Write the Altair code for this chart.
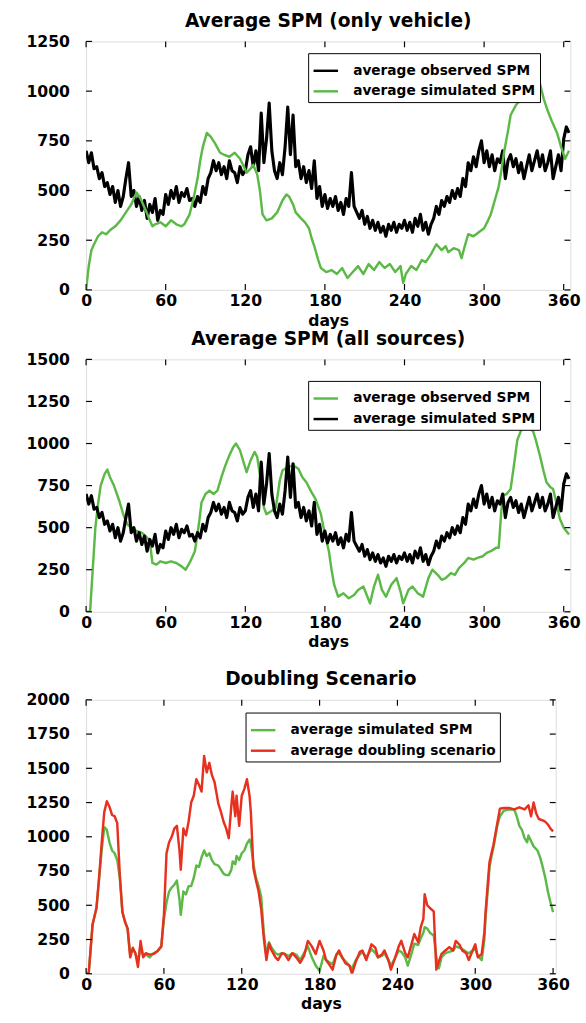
import altair as alt
import pandas as pd

FONT = "DejaVu Sans"
GREEN = "#5cb947"
RED = "#e8301f"
BLACK = "#000000"

# ---- observed SPM (same record in both upper panels), every second day ----
obs_days = list(range(0, 365, 2))
obs_spm = [
    700, 640, 690, 610, 620, 560, 590, 520, 540, 480,
    520, 440, 500, 420, 470, 560, 640, 470, 500, 420,
    470, 400, 450, 360, 430, 390, 460, 350, 400, 380,
    480, 430, 500, 460, 520, 440, 490, 470, 510, 450,
    460, 420, 470, 440, 520, 480, 560, 590, 650, 600,
    640, 580, 620, 560, 650, 600, 590, 540, 620, 580,
    600, 680, 720, 620, 700, 600, 890, 640, 760, 940,
    700, 600, 560, 640, 580, 720, 920, 680, 880, 620,
    650, 560, 620, 540, 600, 510, 650, 460, 520, 420,
    480, 410, 460, 420, 470, 400, 440, 380, 460, 420,
    590, 420, 390, 360, 400, 330, 370, 310, 350, 300,
    340, 290, 320, 270, 330, 300, 340, 290, 330, 310,
    350, 300, 340, 290, 360, 320, 380, 300, 340, 280,
    330, 360, 420, 380, 450, 420, 470, 440, 500, 460,
    510, 470, 560, 520, 640, 600, 670, 620, 700, 750,
    640, 700, 620, 680, 600, 660, 640, 700, 560, 650,
    680, 620, 660, 590, 640, 560, 620, 680, 600, 650,
    700, 620, 680, 600, 640, 700, 560, 620, 680, 600,
    760, 820, 790,
]

# ---- simulated SPM, vehicle sources only ----
veh_days = [0, 2, 4, 6, 9, 12, 15, 18, 22, 26, 30, 34, 38, 41, 45, 48, 50, 52, 56, 60,
            64, 68, 72, 74, 78, 81, 84, 86, 88, 91, 94, 97, 101, 104, 108, 112, 116, 119, 121, 124,
            126, 129, 131, 133, 136, 140, 144, 148, 151, 153, 156, 158, 162, 165, 168, 170, 172, 175, 177, 181,
            185, 189, 193, 197, 201, 205, 209, 213, 217, 221, 225, 229, 233, 237, 239, 241, 245, 249, 253, 256,
            260, 264, 268, 271, 273, 277, 281, 283, 285, 288, 292, 296, 300, 303, 305, 308, 311, 313, 315, 318,
            320, 324, 328, 332, 336, 340, 342, 345, 348, 351, 355, 358, 361, 364]
veh_spm = [0, 120, 200, 230, 270, 290, 280, 300, 320, 350, 390, 430, 490, 460, 400, 350, 320, 330, 340, 320,
           350, 330, 320, 330, 380, 460, 560, 650, 720, 790, 770, 740, 690, 680, 670, 690, 660, 620, 590, 610,
           630, 580, 500, 380, 350, 360, 390, 450, 480, 470, 430, 390, 360, 340, 310, 260, 220, 150, 110, 90,
           100, 80, 110, 60, 90, 120, 80, 130, 100, 140, 110, 130, 90, 120, 35, 80, 120, 100, 150, 140,
           180, 230, 200, 220, 190, 210, 200, 160, 210, 280, 270, 290, 310, 350, 380, 450, 520, 600, 690, 800,
           880, 930, 960, 980, 1000, 1010, 1040, 960, 900, 850, 790, 720, 660, 700]

# ---- simulated SPM, all sources ----
all_days = [0, 3, 5, 7, 9, 11, 14, 16, 18, 21, 25, 28, 31, 34, 38, 42, 46, 48, 50, 53,
            56, 60, 64, 68, 72, 75, 78, 82, 85, 87, 90, 93, 96, 99, 102, 105, 108, 111, 113, 116,
            119, 121, 124, 127, 129, 132, 134, 136, 140, 143, 146, 148, 152, 156, 160, 163, 166, 170, 173, 177,
            180, 183, 185, 187, 190, 194, 198, 202, 205, 209, 212, 214, 217, 220, 223, 226, 230, 234, 237, 239,
            243, 246, 250, 254, 258, 261, 265, 268, 271, 275, 278, 281, 285, 288, 292, 295, 299, 302, 305, 309,
            311, 313, 314, 317, 320, 323, 325, 328, 331, 334, 337, 339, 342, 345, 347, 350, 352, 355, 357, 360,
            364]
all_spm = [0, 0, 250, 500, 640, 750, 820, 845, 800, 750, 660, 580, 520, 500, 480, 470, 440, 420, 290, 280,
           300, 290, 300, 290, 270, 250, 290, 360, 520, 650, 700, 720, 700, 720, 800, 870, 930, 980, 1000, 960,
           880, 830, 900, 950, 920, 760, 620, 580, 600, 620, 780, 840, 860, 870, 850, 800, 770, 710, 670, 580,
           460, 360, 250, 160, 90, 110, 80, 100, 130, 150, 90, 50, 150, 220, 130, 90, 160, 200, 120, 50,
           130, 150, 110, 90, 200, 250, 220, 190, 200, 230, 220, 260, 290, 320, 310, 320, 330, 350, 360, 380,
           380, 600, 690, 700, 730, 900, 1020, 1080, 1110, 1100, 1070, 1020, 930, 830, 770, 740, 730, 630, 555, 500,
           460]

# ---- doubling scenario panel ----
dbl_days = [0, 2, 5, 8, 10, 12, 14, 16, 18, 20, 22, 24, 26, 28, 30, 32, 34, 36, 38, 40,
            42, 44, 46, 49, 52, 55, 58, 60, 62, 64, 66, 68, 70, 72, 73, 75, 77, 79, 81, 83,
            85, 87, 89, 91, 93, 95, 97, 99, 102, 104, 106, 108, 110, 112, 113, 115, 116, 118, 120, 122,
            124, 126, 127, 129, 131, 133, 135, 137, 139, 141, 143, 146, 148, 151, 153, 156, 159, 162, 165, 168,
            171, 174, 177, 180, 183, 185, 188, 190, 193, 195, 198, 200, 203, 205, 208, 211, 213, 216, 220, 223,
            225, 228, 230, 233, 235, 238, 241, 243, 246, 248, 251, 253, 256, 258, 260, 261, 263, 265, 268, 270,
            272, 274, 277, 280, 283, 285, 288, 290, 293, 295, 298, 300, 302, 305, 307, 308, 310, 311, 313, 314,
            317, 319, 322, 326, 330, 334, 338, 341, 343, 345, 347, 349, 352, 354, 356, 358, 360]
dbl_spm = [0, 0, 360, 480, 700, 950, 1180, 1260, 1220, 1160, 1150, 1100, 720, 450, 380, 330, 120, 190, 150, 50,
           240, 120, 150, 140, 145, 165, 200, 430, 880, 960, 1000, 1060, 1080, 900, 760, 1060, 1010, 1110, 1250, 1300,
           1420, 1380, 1330, 1590, 1470, 1540, 1450, 1400, 1240, 1180, 1110, 1060, 990, 1230, 1330, 1150, 1300, 1080, 1300, 1350,
           1420, 1300, 1180, 770, 680, 600, 470, 260, 100, 220, 170, 120, 100, 150, 145, 100, 150, 120, 80, 130,
           240, 200, 145, 240, 170, 100, 60, 30, 140, 170, 110, 75, 60, 0, 90, 160, 170, 100, 215, 190,
           120, 140, 170, 100, 30, 110, 200, 240, 150, 120, 220, 290, 230, 340, 400, 580, 500, 480, 455, 30,
           90, 145, 170, 195, 170, 240, 210, 170, 150, 100, 170, 215, 120, 145, 300, 455, 700, 815, 900, 940,
           1100, 1205, 1210, 1210, 1200, 1215, 1200, 1230, 1150, 1250, 1170, 1130, 1120, 1110, 1090, 1060, 1040]

sim_days = [0, 2, 5, 8, 10, 12, 14, 16, 18, 20, 22, 24, 26, 28, 30, 32, 34, 36, 38, 40,
            42, 44, 46, 49, 52, 55, 58, 60, 62, 64, 66, 68, 70, 72, 73, 75, 77, 79, 81, 83,
            85, 87, 89, 91, 93, 95, 97, 99, 102, 104, 106, 108, 110, 112, 113, 115, 116, 118, 120, 122,
            124, 126, 127, 129, 131, 133, 135, 137, 139, 141, 143, 146, 148, 151, 153, 156, 159, 162, 165, 168,
            171, 174, 177, 180, 183, 185, 188, 190, 193, 195, 198, 200, 203, 205, 208, 211, 213, 216, 220, 223,
            225, 228, 230, 233, 235, 238, 241, 243, 246, 248, 251, 253, 256, 258, 260, 261, 263, 265, 268, 270,
            272, 274, 277, 280, 283, 285, 288, 290, 293, 295, 298, 300, 302, 305, 307, 308, 310, 311, 313, 314,
            317, 319, 322, 326, 330, 332, 334, 336, 338, 340, 341, 343, 345, 348, 350, 352, 354, 356, 358, 360]
sim_spm = [0, 0, 360, 480, 690, 900, 1070, 1050, 960, 900, 880, 830, 700, 450, 380, 330, 140, 180, 150, 90,
           200, 130, 140, 120, 150, 165, 200, 400, 520, 600, 630, 650, 680, 540, 430, 600, 580, 640, 640, 700,
           790, 780, 850, 900, 860, 880, 830, 800, 790, 760, 730, 720, 720, 760, 820, 800, 860, 830, 880, 900,
           950, 980, 950, 800, 700, 640, 560, 300, 130, 230, 190, 150, 140, 150, 145, 130, 150, 140, 100, 150,
           200, 120, 60, 20, 130, 100, 80, 70, 140, 150, 110, 90, 60, 40, 100, 140, 160, 120, 180, 150,
           120, 130, 150, 100, 60, 110, 170, 160, 120, 60, 150, 220, 210, 260, 300, 340, 330, 300, 280, 120,
           40, 120, 150, 160, 170, 200, 190, 180, 160, 150, 170, 180, 130, 100, 250, 420, 650, 780, 880, 920,
           1080, 1150, 1190, 1200, 1200, 1150, 1080, 1050, 990, 960, 1010, 970, 930, 900, 850, 780, 700, 600, 520, 450]


def series(days, values, name):
    return pd.DataFrame({"day": days, "spm": values, "series": name})


def axis_font(**kw):
    return dict(labelFont=FONT, labelFontSize=16, labelFontWeight="bold", labelColor="black",
                titleFont=FONT, titleFontSize=16, titleFontWeight="bold", titleColor="black",
                domain=False, ticks=False, tickSize=0, grid=False, labelFlush=False,
                format="d", **kw)


def panel(title, layers, labels, colors, xmax, ymax, width, height, legend_x, legend_y,
          y_extent, row_pad):
    x_ticks = [0, 60, 120, 180, 240, 300, 360]
    y_ticks = list(range(0, ymax + 1, 250))
    xs = alt.Scale(domain=[0, xmax], nice=False, zero=False)
    ys = alt.Scale(domain=[0, ymax], nice=False, zero=False)
    x_axis = alt.Axis(values=x_ticks, title="days", labelPadding=3, titlePadding=4,
                      **axis_font())
    y_axis = alt.Axis(values=y_ticks, title=None, labelPadding=17, minExtent=y_extent,
                      maxExtent=y_extent, **axis_font())

    legend = alt.Legend(
        orient="none", legendX=legend_x, legendY=legend_y,
        symbolType="stroke", symbolSize=625, symbolStrokeWidth=2.5,
        labelFont=FONT, labelFontSize=14, labelFontWeight="bold", labelColor="black",
        labelLimit=400, labelOffset=14, rowPadding=row_pad,
        strokeColor="black", fillColor="white", padding=4,
    )
    color = alt.Color("series:N", scale=alt.Scale(domain=labels, range=colors),
                      legend=legend, title=None)

    charts = []
    for df, sw in layers:
        charts.append(
            alt.Chart(df).mark_line(strokeWidth=sw, clip=True, strokeJoin="round").encode(
                x=alt.X("day:Q", scale=xs, axis=x_axis),
                y=alt.Y("spm:Q", scale=ys, axis=y_axis),
                color=color,
            )
        )

    # inward tick marks on all four sides of the frame
    xt = pd.DataFrame({"t": x_ticks})
    yt = pd.DataFrame({"t": y_ticks})
    tick = dict(color="black", strokeWidth=1.2)
    xenc = alt.X("t:Q", scale=xs, axis=x_axis)
    yenc = alt.Y("t:Q", scale=ys, axis=y_axis)
    charts += [
        alt.Chart(xt).mark_rule(**tick).encode(x=xenc, y=alt.value(height), y2=alt.value(height - 6)),
        alt.Chart(xt).mark_rule(**tick).encode(x=xenc, y=alt.value(0), y2=alt.value(6)),
        alt.Chart(yt).mark_rule(**tick).encode(y=yenc, x=alt.value(0), x2=alt.value(6)),
        alt.Chart(yt).mark_rule(**tick).encode(y=yenc, x=alt.value(width), x2=alt.value(width - 6)),
    ]

    return alt.layer(*charts).properties(
        width=width, height=height,
        title=alt.TitleParams(title, font=FONT, fontSize=19, fontWeight="bold", color="black",
                              anchor="middle", offset=3),
    )


p1_labels = ["average observed SPM", "average simulated SPM"]
p1 = panel(
    "Average SPM (only vehicle)",
    [(series(obs_days, obs_spm, p1_labels[0]), 3.2), (series(veh_days, veh_spm, p1_labels[1]), 2.5)],
    p1_labels, [BLACK, GREEN], 365, 1250, 495, 254, 227, 12, 62, -9,
)

p2_labels = ["average observed SPM", "average simulated SPM"]
p2 = panel(
    "Average SPM (all sources)",
    [(series(all_days, all_spm, p2_labels[0]), 2.5), (series(obs_days, obs_spm, p2_labels[1]), 3.2)],
    p2_labels, [GREEN, BLACK], 365, 1500, 495, 258, 227, 22, 62, -9,
)

p3_labels = ["average simulated SPM", "average doubling scenario"]
p3 = panel(
    "Doubling Scenario",
    [(series(sim_days, sim_spm, p3_labels[0]), 2.5), (series(dbl_days, dbl_spm, p3_labels[1]), 2.5)],
    p3_labels, [GREEN, RED], 362, 2000, 480, 280, 163, 13, 71, -5,
)

chart = alt.vconcat(
    alt.vconcat(p1, p2, spacing=0).resolve_scale(color="independent"),
    p3,
    spacing=19,
).resolve_scale(color="independent").properties(
    padding={"left": 16, "top": 0, "right": 5, "bottom": 0},
).configure_view(
    stroke="black", strokeWidth=1.5,
).configure(background="white")

chart.save("out.html", embed_options={"renderer": "svg", "actions": False})
